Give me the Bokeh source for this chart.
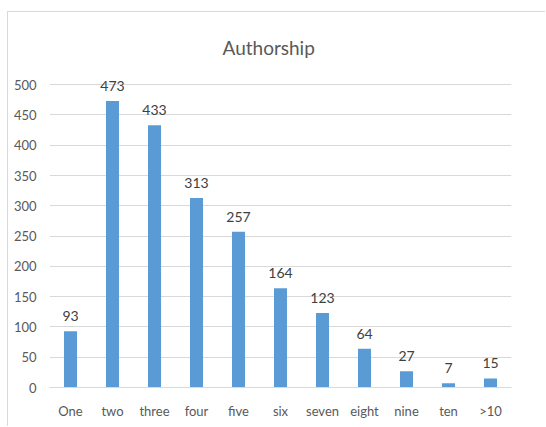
from bokeh.plotting import figure
from bokeh.models import ColumnDataSource, Range1d, LabelSet
from bokeh.core.properties import value
from bokeh.embed import file_html
from bokeh.resources import INLINE

categories = ["One", "two", "three", "four", "five", "six", "seven", "eight", "nine", "ten", ">10"]
counts = [93, 473, 433, 313, 257, 164, 123, 64, 27, 7, 15]
y_ticks = [0, 50, 100, 150, 200, 250, 300, 350, 400, 450, 500]

FONT = "Lato"

src = ColumnDataSource(dict(cat=categories, val=counts, lab=[str(v) for v in counts]))

p = figure(x_range=categories, y_range=Range1d(0, 530), width=538, height=415,
           output_backend="svg", toolbar_location=None,
           min_border_left=41, min_border_right=35, min_border_top=54, min_border_bottom=40,
           margin=(11, 0, 0, 7),
           styles={"border-top": "1px solid #d9d9d9", "border-left": "1px solid #d9d9d9"})
p.outline_line_color = None
p.background_fill_color = "white"
p.border_fill_color = "white"

p.title.text = "Authorship"
p.title.align = "left"
p.title.offset = 173
p.title.text_font = FONT
p.title.text_font_size = "19px"
p.title.text_font_style = "normal"
p.title.text_color = "#595959"
p.title.standoff = 15

p.vbar(x="cat", top="val", width=0.31, source=src, color="#5B9BD5", line_color=None)

labels = LabelSet(x="cat", y="val", text="lab", source=src, text_align="center",
                  text_baseline="bottom", y_offset=10, text_font=value(FONT),
                  text_font_size="14px", text_color="#404040")
p.add_layout(labels)

p.yaxis.ticker = y_ticks
p.yaxis.axis_line_color = None
p.yaxis.major_tick_line_color = None
p.yaxis.minor_tick_line_color = None
p.yaxis.major_label_standoff = 7
p.yaxis.major_label_text_font = FONT
p.yaxis.major_label_text_font_size = "13px"
p.yaxis.major_label_text_color = "#595959"

p.xaxis.axis_line_color = "#d9d9d9"
p.xaxis.major_tick_line_color = None
p.xaxis.minor_tick_line_color = None
p.xaxis.major_label_standoff = 9
p.xaxis.major_label_text_font = FONT
p.xaxis.major_label_text_font_size = "13px"
p.xaxis.major_label_text_color = "#595959"

p.xgrid.grid_line_color = None
p.ygrid.grid_line_color = "#d9d9d9"
p.x_range.range_padding = 0

open("out.html", "w").write(file_html(p, INLINE))
